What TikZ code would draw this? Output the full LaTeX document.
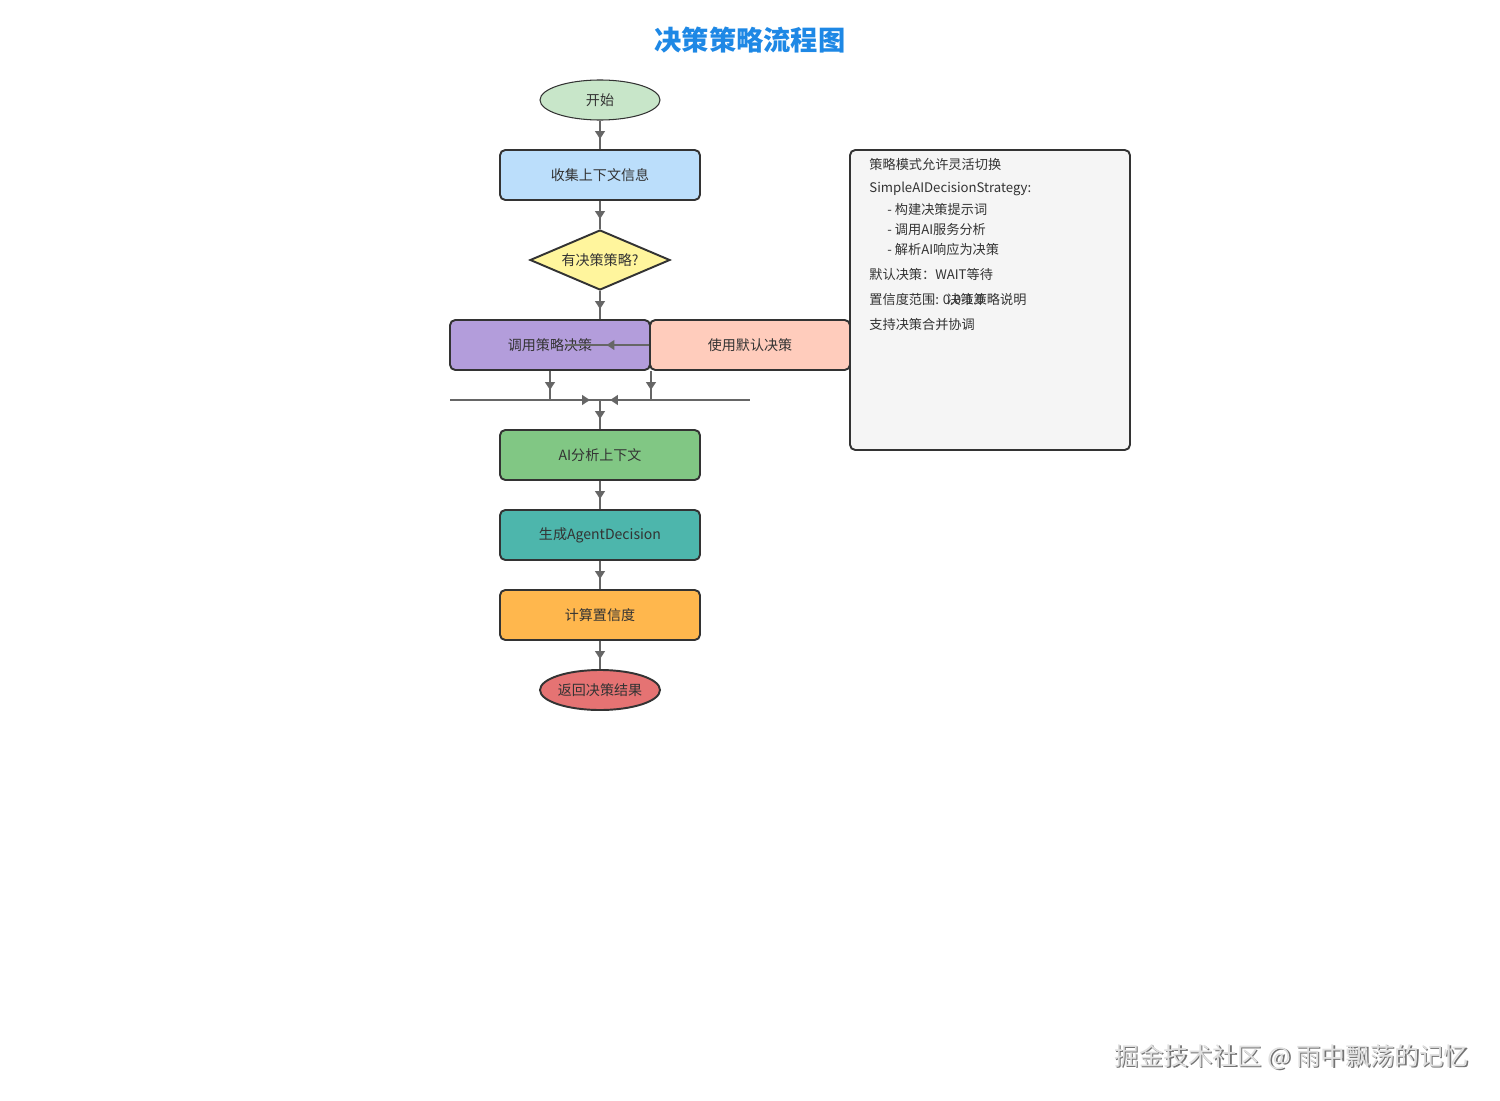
\documentclass[tikz,border=0pt]{standalone}
\usepackage{fontspec}
\setmainfont{Noto Sans CJK SC}
\usetikzlibrary{shapes.geometric, arrows.meta, decorations.markings}
\definecolor{textdark}{RGB}{51,51,51}
\definecolor{linegray}{RGB}{102,102,102}
\definecolor{titleblue}{RGB}{30,136,229}
\definecolor{startgreen}{RGB}{200,230,201}
\definecolor{collectblue}{RGB}{187,222,251}
\definecolor{decideyellow}{RGB}{255,245,157}
\definecolor{callpurple}{RGB}{179,157,219}
\definecolor{defaultpeach}{RGB}{255,204,188}
\definecolor{aigreen}{RGB}{129,199,132}
\definecolor{genteal}{RGB}{77,182,172}
\definecolor{calcorange}{RGB}{255,183,77}
\definecolor{endred}{RGB}{229,115,115}
\definecolor{notegray}{RGB}{245,245,245}
\tikzset{>={Triangle[width=5.5pt,length=4.5pt]}}
\tikzstyle{block} = [rectangle, rounded corners=3pt, minimum width=4cm, minimum height=1cm, text centered, draw=textdark, line width=1.1pt, text=textdark, font=\fontsize{8}{10}\selectfont]
\tikzstyle{terminal} = [ellipse, minimum width=2.4cm, minimum height=0.8cm, inner sep=0pt, draw=textdark, line width=1.1pt, text=textdark, font=\fontsize{8}{10}\selectfont]
\tikzstyle{decision} = [diamond, aspect=2.33, minimum width=2.8cm, minimum height=1.2cm, inner sep=0pt, draw=textdark, line width=1.1pt, fill=decideyellow, text=textdark, font=\fontsize{8}{10}\selectfont]
\tikzstyle{notetext} = [anchor=west, inner sep=0pt, text=textdark, font=\fontsize{7.5}{9}\selectfont]
\tikzstyle{line} = [line width=1.2pt, color=linegray]
\tikzstyle{arrow} = [line, postaction={decorate}, decoration={markings, mark=at position -0.2cm with {\arrow{>}}}]

\begin{document}
\begin{tikzpicture}[node distance=1.6cm]
\useasboundingbox (0,0) rectangle (30,-22);

\node (title) [text=titleblue, font=\fontsize{15.5}{18}\bfseries] at (15,-0.8) {决策策略流程图};

% main flow
\node (start) [terminal, fill=startgreen, line width=0.6pt] at (12,-2) {开始};
\node (collect) [block, fill=collectblue, below of=start, node distance=1.5cm] {收集上下文信息};
\node (decide) [decision, below of=collect, node distance=1.7cm] {有决策策略?};
\node (callstrategy) [block, fill=callpurple, below of=decide, node distance=1.7cm, xshift=-1cm] {调用策略决策};
\node (usedefault) [block, fill=defaultpeach, right of=callstrategy, node distance=4cm] {使用默认决策};
\coordinate (merge) at (12,-8);
\coordinate (mergeleft) at (9,-8);
\coordinate (mergeright) at (15,-8);
\coordinate (strayend) at ([xshift=0.3cm]callstrategy.center);
\node (aianalyse) [block, fill=aigreen, below of=decide, node distance=3.9cm] {AI分析上下文};
\node (gendecision) [block, fill=genteal, below of=aianalyse] {生成AgentDecision};
\node (calcconf) [block, fill=calcorange, below of=gendecision] {计算置信度};
\node (finish) [terminal, fill=endred, below of=calcconf, node distance=1.5cm] {返回决策结果};

\draw [arrow] (start) -- (collect);
\draw [arrow] (collect) -- (decide);
\draw [arrow] (decide.south) -- (decide.south |- callstrategy.north);
\draw [line, postaction={decorate}, decoration={markings, mark=at position 0.85cm with {\arrow{>}}}] (usedefault.west) -- (strayend);
\draw [arrow] (callstrategy.south) -- (callstrategy.south |- merge);
\draw [arrow] (callstrategy.south east) -- (callstrategy.south east |- merge);
\draw [line] (mergeleft) -- (mergeright);
\draw [arrow] (callstrategy.south |- merge) -- (merge);
\draw [arrow] (callstrategy.south east |- merge) -- (merge);
\draw [arrow] (merge) -- (aianalyse);
\draw [arrow] (aianalyse) -- (gendecision);
\draw [arrow] (gendecision) -- (calcconf);
\draw [arrow] (calcconf) -- (finish);

% note
\node (notebox) [draw=textdark, fill=notegray, rounded corners=3pt, line width=1.1pt, minimum width=5.6cm, minimum height=6cm] at (19.8,-6) {};
\node (note1) [notetext] at ([xshift=0.4cm, yshift=-0.3cm]notebox.north west) {策略模式允许灵活切换};
\node (note2) [notetext] at ([xshift=0.4cm, yshift=-0.8cm]notebox.north west) {SimpleAIDecisionStrategy:};
\node (note3) [notetext] at ([xshift=0.76cm, yshift=-1.2cm]notebox.north west) {- 构建决策提示词};
\node (note4) [notetext] at ([xshift=0.76cm, yshift=-1.6cm]notebox.north west) {- 调用AI服务分析};
\node (note5) [notetext] at ([xshift=0.76cm, yshift=-2.0cm]notebox.north west) {- 解析AI响应为决策};
\node (note6) [notetext] at ([xshift=0.4cm, yshift=-2.5cm]notebox.north west) {默认决策：WAIT等待};
\node (note7) [notetext] at ([xshift=0.4cm, yshift=-3.0cm]notebox.north west) {置信度范围: 0.0-1.0};
\node (notetitle) [notetext] at ([xshift=1.96cm, yshift=-3.0cm]notebox.north west) {决策策略说明};
\node (note8) [notetext] at ([xshift=0.4cm, yshift=-3.5cm]notebox.north west) {支持决策合并协调};

% watermark
\node (markshadow) [text=black!55, font=\fontsize{14}{16}\selectfont] at (25.86,-21.17) {掘金技术社区 @ 雨中飘荡的记忆};
\node (mark) [text=black!12, font=\fontsize{14}{16}\selectfont] at (25.83,-21.14) {掘金技术社区 @ 雨中飘荡的记忆};
\end{tikzpicture}
\end{document}
